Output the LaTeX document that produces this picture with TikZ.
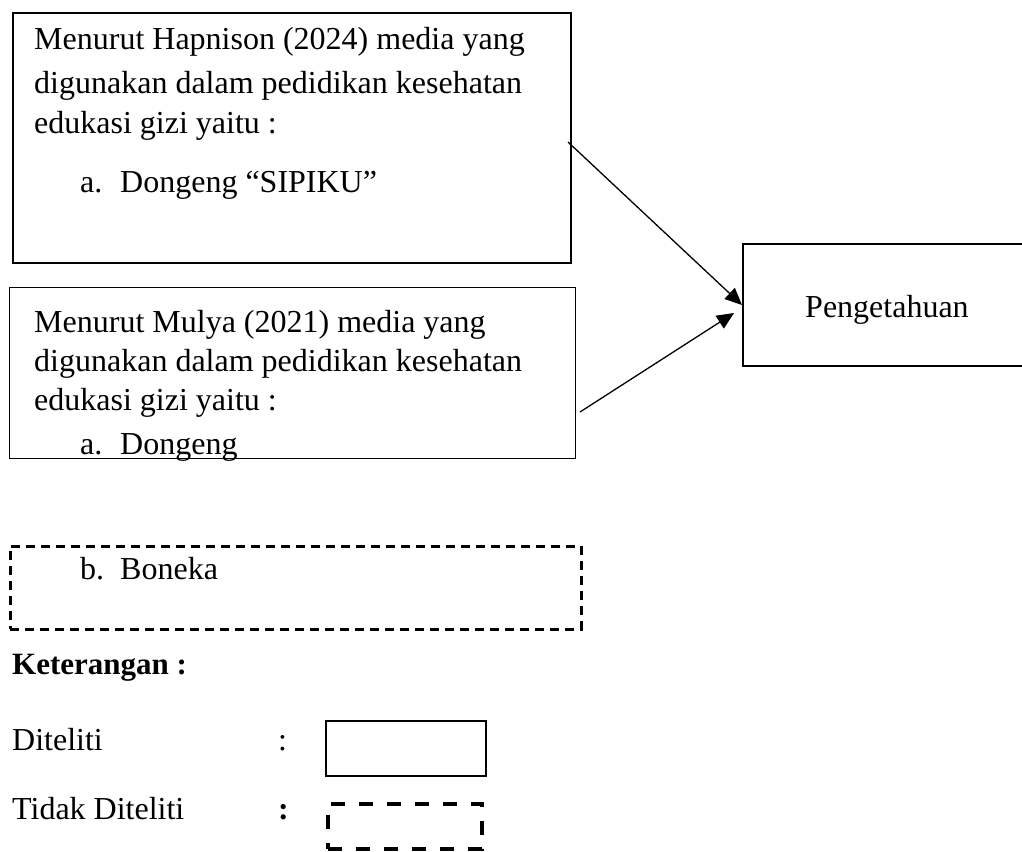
\documentclass[tikz,border=0pt]{standalone}
\usepackage{fontspec}
\setmainfont{Liberation Serif}
\usetikzlibrary{arrows.meta}
\begin{document}
\begin{tikzpicture}[x=1pt,y=-1pt,
  txt/.style={anchor=base west,inner sep=0pt,font=\fontsize{32}{38}\selectfont},
  solidbox/.style={draw,line width=2pt,anchor=north west,inner sep=0pt},
  thinbox/.style={draw,line width=1.2pt,anchor=north west,inner sep=0pt},
  dashbox/.style={draw,line width=2.6pt,dash pattern=on 9pt off 6pt,anchor=north west,inner sep=0pt},
  legdash/.style={draw,line width=3.6pt,dash pattern=on 14pt off 14pt,anchor=north west,inner sep=0pt},
  conn/.style={line width=1.3pt,-{Triangle[length=17pt,width=15pt]}}]
\useasboundingbox (0,0) rectangle (1022,851);
\fill[white] (0,0) rectangle (1022,851);
% box 1
\node[solidbox,minimum width=558pt,minimum height=250pt] (b1) at (12,12) {};
\node[txt] (t11) at (34,50) {Menurut Hapnison (2024) media yang};
\node[txt] (t12) at (34,93) {digunakan dalam pedidikan kesehatan};
\node[txt] (t13) at (34,133) {edukasi gizi yaitu :};
\node[txt] (t14) at (80,192) {a.};
\node[txt] (t15) at (120,192) {Dongeng “SIPIKU”};
% box 2
\node[thinbox,minimum width=566pt,minimum height=171pt] (b2) at (9,287) {};
\node[txt] (t21) at (34,332) {Menurut Mulya (2021) media yang};
\node[txt] (t22) at (34,371) {digunakan dalam pedidikan kesehatan};
\node[txt] (t23) at (34,410) {edukasi gizi yaitu :};
\node[txt] (t24) at (80,454) {a.};
\node[txt] (t25) at (120,454) {Dongeng};
% box 3
\node[solidbox,minimum width=300pt,minimum height=122pt] (b3) at (742,243) {};
\node[txt] (t3) at (805,317) {Pengetahuan};
% dashed box
\node[dashbox,minimum width=571pt,minimum height=83pt] (b4) at (9,545) {};
\node[txt] (t41) at (80,579) {b.};
\node[txt] (t42) at (120,579) {Boneka};
% legend
\node[txt,font=\fontsize{31}{36}\selectfont\bfseries] (k) at (12,674) {Keterangan :};
\node[txt] (l1) at (12,750) {Diteliti};
\node[txt] (l1c) at (278,750) {:};
\node[solidbox,minimum width=160pt,minimum height=55pt] (lb1) at (325,720) {};
\node[txt] (l2) at (12,819) {Tidak Diteliti};
\node[txt,font=\fontsize{32}{38}\selectfont\bfseries] (l2c) at (278,819) {:};
\node[legdash,minimum width=154pt,minimum height=45pt] (lb2) at (326,802) {};
% connectors
\coordinate (a1s) at (568,142);
\coordinate (a2s) at (580,412);
\coordinate (a2e) at (734,313);
\draw[conn] (a1s) -- (b3.west);
\draw[conn] (a2s) -- (a2e);
\end{tikzpicture}
\end{document}
